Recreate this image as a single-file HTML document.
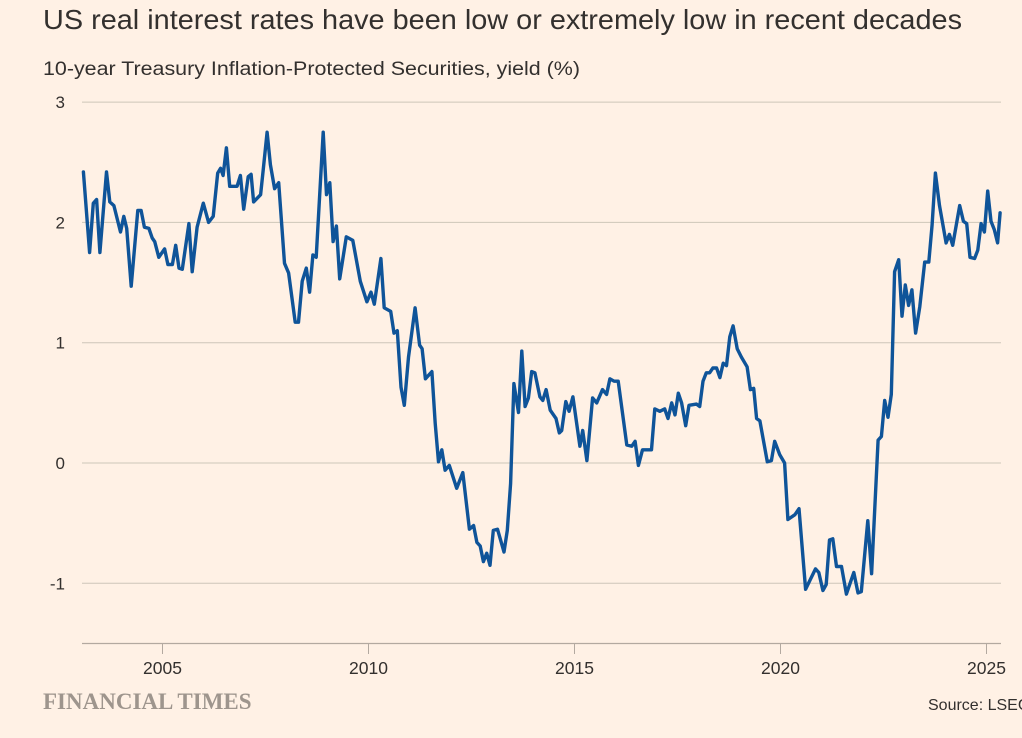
<!DOCTYPE html>
<html><head><meta charset="utf-8"><style>
body{margin:0;background:#fff1e5;width:1022px;height:738px;overflow:hidden;font-family:"Liberation Sans",sans-serif;color:#33302e}
svg{position:absolute;left:0;top:0}
</style></head><body>
<svg width="1022" height="738">
<text x="43" y="29" font-size="27.5" fill="#33302e" textLength="919" lengthAdjust="spacingAndGlyphs">US real interest rates have been low or extremely low in recent decades</text>
<text x="43" y="75" font-size="19" fill="#33302e" textLength="537" lengthAdjust="spacingAndGlyphs">10-year Treasury Inflation-Protected Securities, yield (%)</text>
<g id="grid"></g><g id="xaxis"></g>
<path id="line" fill="none" stroke="#0f5499" stroke-width="3.4" stroke-linejoin="round" stroke-linecap="round"/>
<text x="43" y="709" font-family="'Liberation Serif',serif" font-weight="bold" font-size="23" fill="#9e958d">FINANCIAL TIMES</text>
<text x="928" y="710" font-size="16" fill="#33302e">Source: LSEG</text>
</svg>
<script>
const years=[2003.08,2003.23,2003.32,2003.40,2003.48,2003.64,2003.72,2003.82,2003.98,2004.06,2004.13,2004.24,2004.40,2004.48,2004.56,2004.67,2004.75,2004.81,2004.91,2005.05,2005.13,2005.24,2005.32,2005.40,2005.48,2005.64,2005.72,2005.84,2005.99,2006.12,2006.23,2006.34,2006.41,2006.47,2006.55,2006.63,2006.81,2006.89,2006.97,2007.08,2007.15,2007.21,2007.38,2007.44,2007.54,2007.62,2007.72,2007.82,2007.96,2008.06,2008.22,2008.30,2008.39,2008.49,2008.57,2008.65,2008.73,2008.90,2008.98,2009.06,2009.14,2009.22,2009.30,2009.46,2009.62,2009.80,2009.96,2010.06,2010.14,2010.30,2010.38,2010.54,2010.62,2010.70,2010.79,2010.87,2010.97,2011.13,2011.24,2011.30,2011.38,2011.54,2011.62,2011.70,2011.78,2011.86,2011.96,2012.14,2012.29,2012.45,2012.55,2012.63,2012.71,2012.79,2012.87,2012.95,2013.03,2013.13,2013.29,2013.37,2013.45,2013.53,2013.64,2013.72,2013.80,2013.88,2013.96,2014.04,2014.16,2014.23,2014.31,2014.41,2014.55,2014.63,2014.69,2014.79,2014.87,2014.96,2015.13,2015.20,2015.30,2015.44,2015.54,2015.68,2015.78,2015.86,2015.96,2016.06,2016.27,2016.39,2016.47,2016.55,2016.65,2016.75,2016.87,2016.95,2017.07,2017.19,2017.27,2017.36,2017.44,2017.52,2017.60,2017.70,2017.78,2017.96,2018.04,2018.12,2018.20,2018.28,2018.36,2018.45,2018.53,2018.61,2018.69,2018.77,2018.85,2018.95,2019.05,2019.19,2019.27,2019.35,2019.42,2019.50,2019.68,2019.78,2019.86,2019.98,2020.10,2020.18,2020.35,2020.45,2020.61,2020.85,2020.93,2021.03,2021.11,2021.19,2021.27,2021.36,2021.48,2021.60,2021.78,2021.88,2021.96,2022.12,2022.21,2022.37,2022.45,2022.53,2022.61,2022.69,2022.77,2022.87,2022.95,2023.03,2023.11,2023.19,2023.28,2023.38,2023.50,2023.60,2023.68,2023.76,2023.86,2024.02,2024.10,2024.18,2024.35,2024.44,2024.52,2024.60,2024.71,2024.79,2024.87,2024.95,2025.03,2025.11,2025.19,2025.27,2025.33];
const yields=[2.42,1.75,2.16,2.19,1.75,2.42,2.17,2.14,1.92,2.05,1.95,1.47,2.10,2.10,1.96,1.95,1.87,1.84,1.71,1.78,1.65,1.65,1.81,1.62,1.61,1.99,1.59,1.96,2.16,2.00,2.05,2.41,2.45,2.39,2.62,2.30,2.30,2.39,2.11,2.38,2.40,2.17,2.23,2.42,2.75,2.48,2.28,2.33,1.66,1.58,1.17,1.17,1.51,1.62,1.42,1.73,1.71,2.75,2.23,2.33,1.84,1.97,1.53,1.88,1.85,1.51,1.34,1.42,1.32,1.70,1.29,1.26,1.08,1.10,0.63,0.48,0.88,1.29,0.98,0.95,0.70,0.76,0.33,0.01,0.11,-0.06,-0.02,-0.21,-0.08,-0.55,-0.52,-0.66,-0.69,-0.82,-0.75,-0.85,-0.56,-0.55,-0.74,-0.56,-0.17,0.66,0.42,0.93,0.47,0.54,0.76,0.75,0.55,0.52,0.61,0.44,0.37,0.25,0.27,0.51,0.43,0.55,0.14,0.27,0.02,0.54,0.50,0.61,0.57,0.70,0.68,0.68,0.15,0.14,0.18,-0.02,0.11,0.11,0.11,0.45,0.43,0.45,0.37,0.50,0.40,0.58,0.50,0.31,0.48,0.49,0.47,0.68,0.75,0.75,0.79,0.79,0.71,0.83,0.81,1.05,1.14,0.95,0.88,0.80,0.61,0.62,0.37,0.35,0.01,0.02,0.18,0.07,0.00,-0.47,-0.43,-0.38,-1.05,-0.88,-0.91,-1.06,-1.01,-0.64,-0.63,-0.86,-0.86,-1.09,-0.91,-1.08,-1.07,-0.48,-0.92,0.19,0.22,0.52,0.38,0.57,1.59,1.69,1.22,1.48,1.31,1.44,1.08,1.30,1.67,1.67,1.98,2.41,2.14,1.83,1.90,1.81,2.14,2.01,1.99,1.71,1.70,1.77,1.99,1.92,2.26,2.01,1.94,1.83,2.08];
const yTicks=[3,2,1,0,-1];
const yTickLabels=["3","2","1","0","-1"];
const xTicks=[2005,2010,2015,2020,2025];
const xTickLabels=["2005","2010","2015","2020","2025"];
const NS="http://www.w3.org/2000/svg";
function xs(yr){return 162.5+(yr-2005)*41.2;}
function ys(v){return 463-v*120.3;}
const grid=document.getElementById('grid');
yTicks.forEach((t,i)=>{
 const l=document.createElementNS(NS,'line');
 l.setAttribute('x1',82);l.setAttribute('x2',1001);l.setAttribute('y1',ys(t));l.setAttribute('y2',ys(t));
 l.setAttribute('stroke','#cec6b9');l.setAttribute('stroke-width','1');
 
 
 grid.appendChild(l);
 const tx=document.createElementNS(NS,'text');
 tx.setAttribute('x',65);tx.setAttribute('y',ys(t)+6);tx.setAttribute('text-anchor','end');
 tx.setAttribute('font-size','17');tx.setAttribute('fill','#33302e');
 tx.textContent=yTickLabels[i];
 
 
 grid.appendChild(tx);
});
const xa=document.getElementById('xaxis');
const base=document.createElementNS(NS,'line');
base.setAttribute('x1',82);base.setAttribute('x2',1001);base.setAttribute('y1',643.5);base.setAttribute('y2',643.5);
base.setAttribute('stroke','#b3a9a0');base.setAttribute('stroke-width','1.2');


xa.appendChild(base);
xTicks.forEach((t,i)=>{
 const l=document.createElementNS(NS,'line');
 l.setAttribute('x1',xs(t));l.setAttribute('x2',xs(t));l.setAttribute('y1',643.5);l.setAttribute('y2',654);
 l.setAttribute('stroke','#b3a9a0');l.setAttribute('stroke-width','1');
 
 
 xa.appendChild(l);
 const tx=document.createElementNS(NS,'text');
 tx.setAttribute('x',xs(t));tx.setAttribute('y',674);tx.setAttribute('text-anchor','middle');
 tx.setAttribute('font-size','17.5');tx.setAttribute('fill','#33302e');
 tx.textContent=xTickLabels[i];
 
 
 xa.appendChild(tx);
});
let d='';
years.forEach((y,i)=>{d+=(i?'L':'M')+xs(y).toFixed(1)+','+ys(yields[i]).toFixed(1);});
document.getElementById('line').setAttribute('d',d);
</script>
</body></html>
